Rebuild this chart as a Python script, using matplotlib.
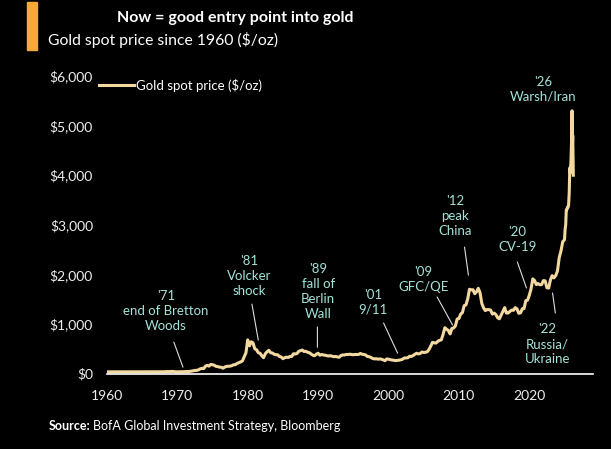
import numpy as np
import matplotlib.pyplot as plt
from matplotlib.patches import Rectangle
from matplotlib.ticker import FuncFormatter

plt.rcParams['font.family'] = ['Lato', 'DejaVu Sans']

# gold spot price, quarterly readings 1960-2024 ($/oz)
years = list(range(1960, 2025))
quarterly_prices = [
    [35, 35, 35, 36], [35, 35, 35, 35], [35, 35, 35, 35], [35, 35, 35, 35],
    [35, 35, 35, 35], [35, 35, 35, 35], [35, 35, 35, 35], [35, 35, 35, 35],
    [36, 39, 40, 39], [42, 43, 41, 35],
    [35, 36, 36, 37], [38, 40, 42, 43], [48, 55, 65, 64], [75, 95, 105, 100],
    [150, 165, 150, 185], [178, 168, 145, 140], [130, 127, 108, 132],
    [145, 148, 150, 160], [178, 180, 205, 220], [235, 255, 340, 420],
    [680, 560, 640, 620], [500, 480, 420, 410], [360, 320, 400, 440],
    [470, 420, 415, 390], [380, 380, 345, 335], [300, 320, 330, 325],
    [345, 345, 400, 395], [405, 450, 460, 475], [445, 450, 430, 420],
    [395, 370, 360, 390], [410, 370, 385, 375], [370, 360, 355, 360],
    [350, 340, 345, 335], [330, 365, 375, 375], [385, 385, 390, 385],
    [380, 385, 385, 385], [405, 390, 385, 375], [345, 340, 325, 305],
    [295, 300, 290, 295], [290, 275, 260, 295], [290, 280, 275, 268],
    [262, 265, 270, 278], [290, 315, 315, 320], [350, 345, 365, 390],
    [410, 395, 405, 435], [425, 430, 440, 485], [555, 630, 620, 615],
    [650, 670, 680, 790], [925, 895, 870, 800], [910, 920, 960, 1100],
    [1110, 1200, 1230, 1370], [1385, 1505, 1700, 1690], [1690, 1610, 1650, 1720],
    [1630, 1415, 1325, 1270], [1290, 1290, 1280, 1200], [1220, 1190, 1125, 1105],
    [1180, 1260, 1330, 1220], [1220, 1255, 1280, 1275], [1330, 1305, 1215, 1225],
    [1305, 1310, 1470, 1480], [1580, 1710, 1910, 1875], [1795, 1815, 1790, 1795],
    [1875, 1870, 1730, 1725], [1890, 1975, 1930, 1975], [2070, 2340, 2475, 2660],
]

# 2025-2026, monthly-ish readings
recent_dates = [2025.0, 2025.08, 2025.17, 2025.25, 2025.33, 2025.42, 2025.5,
                2025.58, 2025.67, 2025.75, 2025.83, 2025.92, 2026.0, 2026.07,
                2026.12, 2026.17, 2026.25]
recent_prices = [2700, 2900, 3000, 3300, 3300, 3350, 3350, 3400, 3650, 4150,
                 4050, 4300, 4700, 5300, 4600, 4800, 4000]

# (label, text position, leader line start, leader line end)
events = [
    ("'71\nend of Bretton\nWoods", (1968.4, 1270), (1969.5, 635), (1970.8, 130)),
    ("'81\nVolcker\nshock", (1980.2, 1965), (1980.6, 1400), (1981.5, 675)),
    ("'89\nfall of\nBerlin\nWall", (1990.0, 1660), (1989.9, 940), (1989.9, 530)),
    ("'01\n9/11", (1997.8, 1440), (1999.3, 1020), (2001.3, 410)),
    ("'09\nGFC/QE", (2004.95, 1905), (2006.9, 1545), (2009.1, 980)),
    ("'12\npeak\nChina", (2009.5, 3175), (2010.8, 2550), (2011.35, 1985)),
    ("'20\nCV-19", (2018.3, 2700), (2018.3, 2250), (2019.6, 1725)),
    ("'22\nRussia/\nUkraine", (2022.6, 595), (2023.3, 1625), (2023.7, 1220)),
    ("'26\nWarsh/Iran", (2021.9, 5730), None, None),
]

dates = [y + q / 4 for y in years for q in range(4)] + recent_dates
prices = [p for row in quarterly_prices for p in row] + recent_prices

bg = 'black'
line_col = '#f3d9a0'
note_col = '#a3e3d8'

fig = plt.figure(figsize=(6.11, 4.49), dpi=100, facecolor=bg)
ax = fig.add_axes([0.175, 0.168, 0.795, 0.6626], facecolor=bg)

ax.plot(dates, prices, color=line_col, lw=2.2, label='Gold spot price ($/oz)',
        solid_joinstyle='round')

ax.set_xlim(1960, 2029)
ax.set_ylim(0, 6000)
ax.set_xticks(range(1960, 2021, 10))
ax.set_yticks(range(0, 6001, 1000))
ax.yaxis.set_major_formatter(FuncFormatter(lambda v, p: f'${v:,.0f}'))
ax.tick_params(axis='x', length=0, pad=12, colors='#eeeeee', labelsize=10)
ax.tick_params(axis='y', length=0, pad=10, colors='#eeeeee', labelsize=10)
for s in ['top', 'right', 'left']:
    ax.spines[s].set_visible(False)
ax.spines['bottom'].set_color('white')
ax.spines['bottom'].set_linewidth(1.2)

for label, txt, start, end in events:
    ax.text(txt[0], txt[1], label, color=note_col, fontsize=9.5, ha='center',
            va='center', linespacing=1.3)
    if start is not None:
        ax.annotate('', xy=end, xytext=start,
                    arrowprops=dict(arrowstyle='-', color='#dddddd', lw=0.8,
                                    shrinkA=0, shrinkB=0))

leg = ax.legend(loc='upper left', bbox_to_anchor=(-0.04, 1.03), frameon=False,
                handlelength=2.6, handletextpad=0.2, fontsize=9.5)
for t in leg.get_texts():
    t.set_color('white')

# orange marker bar + titles
fig.patches.append(Rectangle((27 / 611, 1 - 50 / 449), 10 / 611, 48 / 449,
                             transform=fig.transFigure, color='#f5a93b'))
fig.text(0.385, 1 - 18 / 449, 'Now = good entry point into gold', color='white',
         fontsize=11.5, fontweight='bold', ha='center', va='center')
fig.text(48 / 611, 1 - 40 / 449, 'Gold spot price since 1960 ($/oz)', color='white',
         fontsize=11.3, ha='left', va='center')

# source line
fig.text(49 / 611, 1 - 426 / 449, 'Source:', color='white', fontsize=9,
         fontweight='bold', ha='left', va='center')
fig.text(93 / 611, 1 - 426 / 449, 'BofA Global Investment Strategy, Bloomberg',
         color='white', fontsize=9, ha='left', va='center')

fig.savefig('out.png', dpi=100, facecolor=bg)
